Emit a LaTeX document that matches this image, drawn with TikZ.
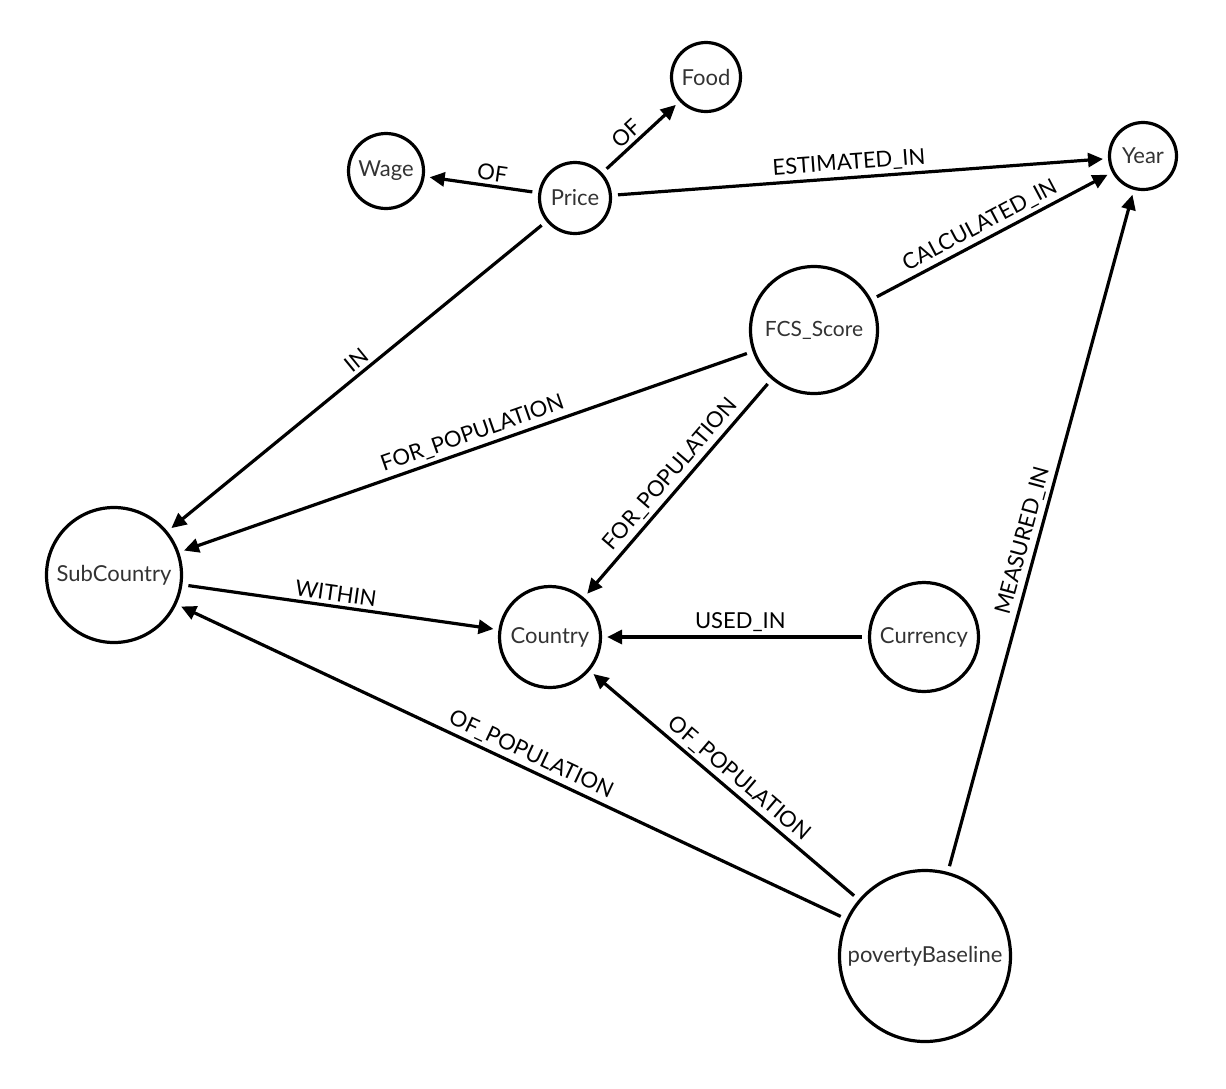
\documentclass[tikz,border=0pt]{standalone}
\usepackage{fontspec}
\setmainfont{Lato}
\usetikzlibrary{arrows.meta}
\begin{document}
\begin{tikzpicture}[x=1pt,y=-1pt,
  ent/.style={circle, draw, line width=3.2pt, text=black!80, inner sep=0pt,
    font=\fontsize{22}{22}\selectfont},
  rel/.style={line width=3.2pt, -{Triangle[length=15pt,width=14pt]},
    shorten >=5pt, shorten <=6pt},
  lbl/.style={sloped, above, pos=0.48, inner sep=3.5pt, text=black,
    font=\fontsize{22}{22}\selectfont}]
\useasboundingbox (0,0) rectangle (1226,1088);
\node[ent, minimum size=69pt]  (food)  at (706,77)  {Food};
\node[ent, minimum size=75pt]  (wage)  at (386,171) {Wage};
\node[ent, minimum size=71pt]  (price) at (575,198) {Price};
\node[ent, minimum size=67pt]  (year)  at (1143,156) {Year};
\node[ent, minimum size=127pt, font=\fontsize{21}{21}\selectfont] (fcs) at (814,330) {FCS\_Score};
\node[ent, minimum size=135pt] (sub)   at (114,575) {SubCountry};
\node[ent, minimum size=101pt] (cty)   at (550,637) {Country};
\node[ent, minimum size=109pt] (cur)   at (924,637) {Currency};
\node[ent, minimum size=171pt] (pov)   at (925,956) {povertyBaseline};

\draw[rel] (price) -- node[lbl, pos=0.42] {OF} (food);
\draw[rel] (price) -- node[lbl, pos=0.42] {OF} (wage);
\draw[rel] (price) -- node[lbl] {ESTIMATED\_IN} (year);
\draw[rel] (price) -- node[lbl] {IN} (sub);
\draw[rel] (fcs) -- node[lbl] {CALCULATED\_IN} (year);
\draw[rel] (fcs) -- node[lbl] {FOR\_POPULATION} (sub);
\draw[rel] (fcs) -- node[lbl] {FOR\_POPULATION} (cty);
\draw[rel] (sub) -- node[lbl] {WITHIN} (cty);
\draw[rel] (cur) -- node[lbl] {USED\_IN} (cty);
\draw[rel] (pov) -- node[lbl] {OF\_POPULATION} (sub);
\draw[rel] (pov) -- node[lbl] {OF\_POPULATION} (cty);
\draw[rel] (pov) -- node[lbl] {MEASURED\_IN} (year);
\end{tikzpicture}
\end{document}
